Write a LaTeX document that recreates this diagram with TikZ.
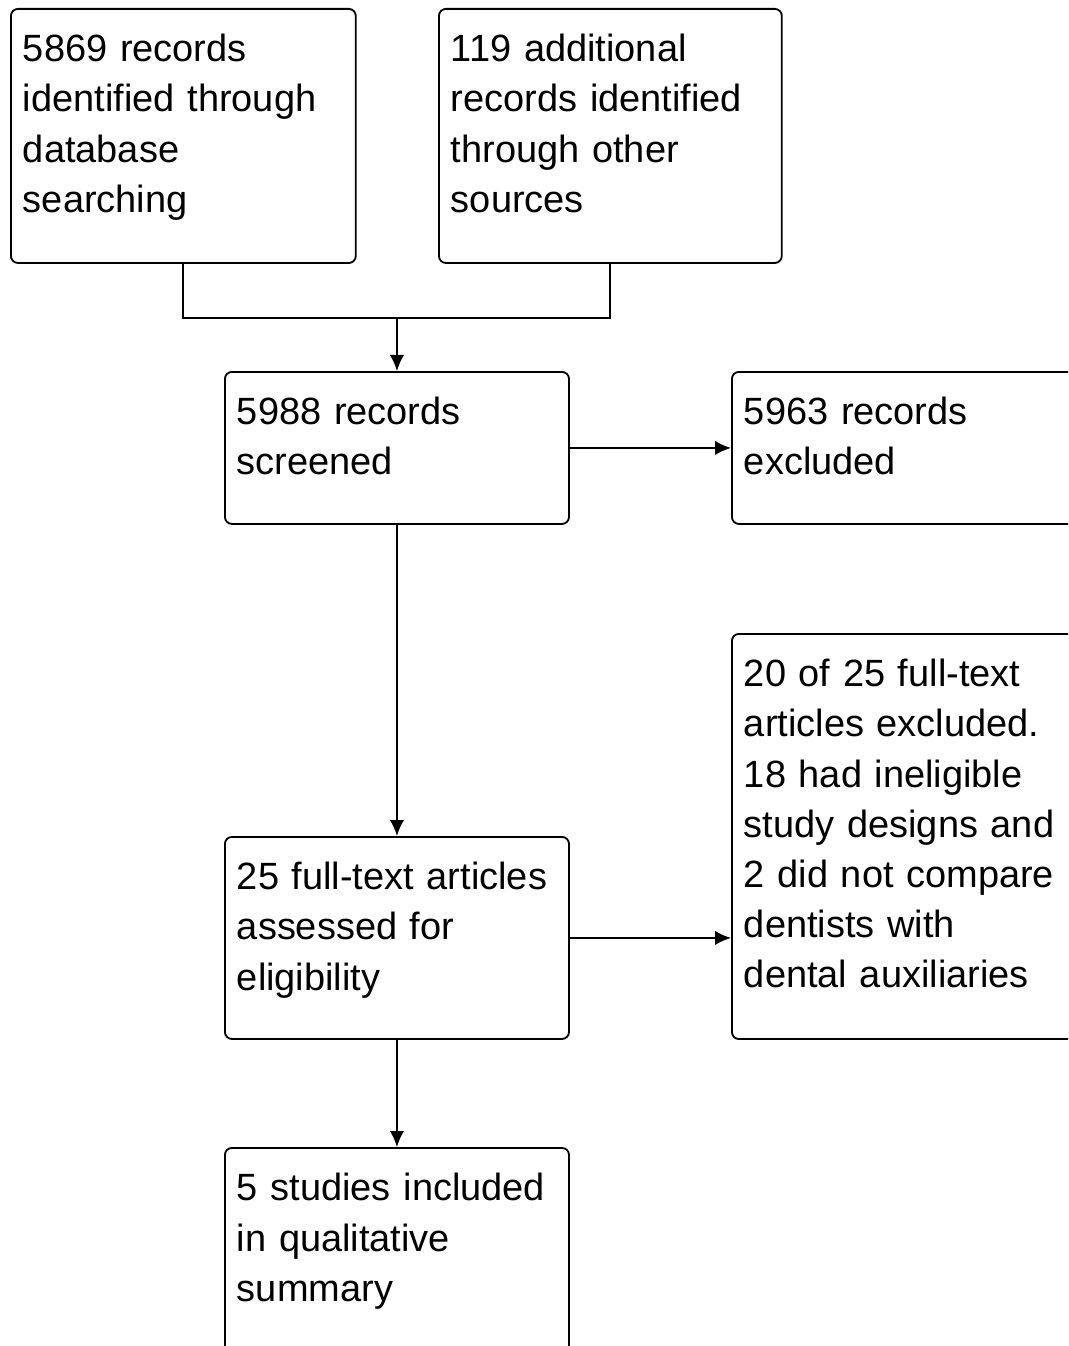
\documentclass[tikz,border=0pt]{standalone}
\usepackage{fontspec}
\setmainfont{Liberation Sans}
\usetikzlibrary{arrows.meta}

\begin{document}
\begin{tikzpicture}[x=0.025cm, y=-0.025cm,
  flowbox/.style={draw, line width=1.3pt, rounded corners=5pt, anchor=north west,
    align=left, text width=8.0cm, inner xsep=0.3cm, inner ysep=0pt,
    text height=1.325cm, font=\fontsize{27pt}{35.6pt}\selectfont},
  sidebox/.style={flowbox, text width=9.4cm},
  flowline/.style={line width=1.3pt},
  flowarrow/.style={line width=1.3pt, -{Latex[length=4mm,width=3.6mm]}}]

  \useasboundingbox (0,0) rectangle (1068,1346);
  \clip (0,0) rectangle (1068,1346);

  % identification
  \draw (10,8) node (database) [flowbox, text width=8.02cm, text depth=5.025cm] {5869 records\\identified through\\database\\searching};
  \draw (438,8) node (other) [flowbox, text width=7.97cm, text depth=5.025cm] {119 additional\\records identified\\through other\\sources};

  % screening
  \draw (224,371) node (screened) [flowbox, text depth=2.475cm] {5988 records\\screened};
  \draw (731,371) node (excluded) [sidebox, text depth=2.475cm] {5963 records\\excluded};

  % eligibility
  \draw (224,836) node (fulltext) [flowbox, text depth=3.725cm] {25 full-text articles\\assessed for\\eligibility};
  \draw (731,633) node (ftexcluded) [sidebox, text depth=8.8cm] {20 of 25 full-text\\articles excluded.\\18 had ineligible\\study designs and\\2 did not compare\\dentists with\\dental auxiliaries};

  % included
  \draw (224,1147) node (included) [flowbox, text depth=6.25cm] {5 studies included\\in qualitative\\summary};

  \coordinate (merge) at ([yshift=1.325cm]screened.north);
  \draw[flowline] (database.south) |- (merge) -| (other.south);
  \draw[flowarrow] (merge) -- (screened.north);
  \draw[flowarrow] (screened.east) -- (excluded.west);
  \draw[flowarrow] (screened.south) -- (fulltext.north);
  \draw[flowarrow] (fulltext.east) -- (fulltext.east -| ftexcluded.west);
  \draw[flowarrow] (fulltext.south) -- (included.north);

\end{tikzpicture}
\end{document}
